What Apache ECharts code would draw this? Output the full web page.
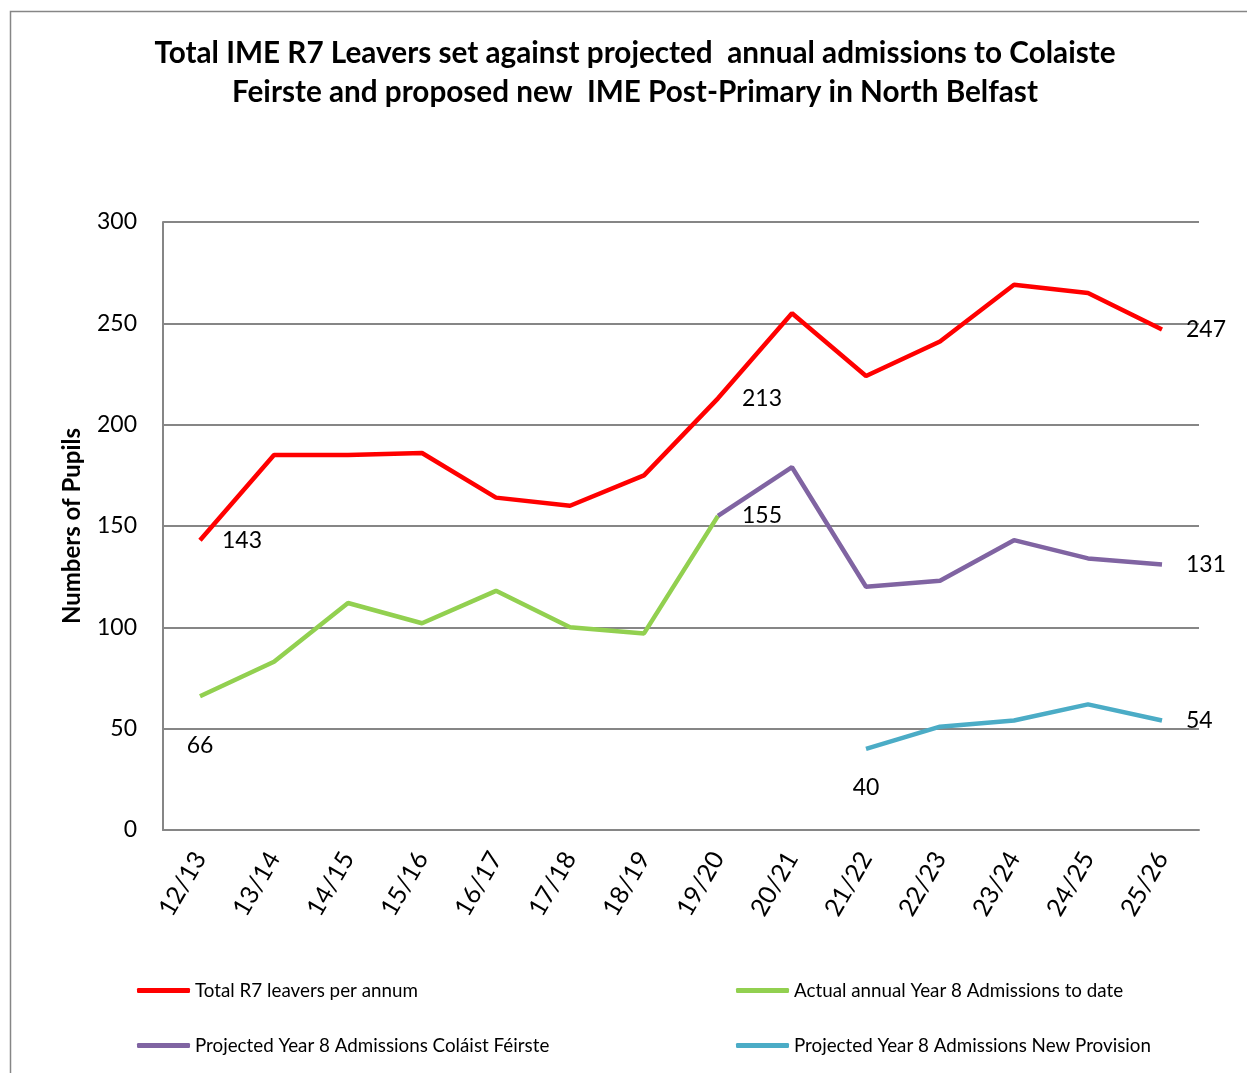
<!DOCTYPE html>
<html>
<head>
<meta charset="utf-8">
<script src="https://cdn.jsdelivr.net/npm/echarts@6/dist/echarts.min.js"></script>
<style>
  html, body { margin: 0; padding: 0; background: #fff; }
  #chart { width: 1247px; height: 1073px; }
</style>
</head>
<body>
<div id="chart"></div>
<script>
var categories = ['12/13', '13/14', '14/15', '15/16', '16/17', '17/18', '18/19',
  '19/20', '20/21', '21/22', '22/23', '23/24', '24/25', '25/26'];
var leavers = [143, 185, 185, 186, 164, 160, 175, 213, 255, 224, 241, 269, 265, 247];
var actualAdmissions = [66, 83, 112, 102, 118, 100, 97, 155, null, null, null, null, null, null];
var projectedColaiste = [null, null, null, null, null, null, null, 155, 179, 120, 123, 143, 134, 131];
var projectedNew = [null, null, null, null, null, null, null, null, null, 40, 51, 54, 62, 54];

var seriesNames = [
  'Total R7 leavers per annum',
  'Actual annual Year 8 Admissions to date',
  'Projected Year 8 Admissions Coláist Féirste',
  'Projected Year 8 Admissions New Provision'
];

var font = 'Lato';

var dom = document.getElementById('chart');
var myChart = echarts.init(dom, null, { renderer: 'canvas' });

// which points carry a value label, and where
function withLabels(values, labelled) {
  return values.map(function (v, i) {
    if (v === null) return '-';
    if (labelled[i]) {
      return {
        value: v,
        label: {
          show: true,
          position: labelled[i].pos,
          distance: labelled[i].dist,
          color: '#000',
          fontFamily: font,
          fontSize: 23
        }
      };
    }
    return v;
  });
}

function lineSeries(name, color, data) {
  return {
    name: name,
    type: 'line',
    data: data,
    symbol: 'circle',
    symbolSize: 0,
    showSymbol: true,
    connectNulls: false,
    lineStyle: { color: color, width: 4.5 },
    itemStyle: { color: color },
    z: 3
  };
}

function legendAt(name, left, top) {
  return {
    data: [name],
    left: left,
    top: top,
    icon: 'roundRect',
    itemWidth: 53,
    itemHeight: 5,
    itemGap: 0,
    textStyle: { fontFamily: font, fontSize: 18.8, color: '#000' }
  };
}

var option = {
  animation: false,
  backgroundColor: '#fff',
  graphic: [{
    type: 'rect',
    shape: { x: 10.5, y: 11.5, width: 1260, height: 1100 },
    style: { fill: 'none', stroke: '#868686', lineWidth: 1.5 }
  }],
  title: {
    text: 'Total IME R7 Leavers set against projected  annual admissions to Colaiste\nFeirste and proposed new  IME Post-Primary in North Belfast',
    left: 630,
    textAlign: 'center',
    top: 29,
    textStyle: {
      fontFamily: font,
      fontSize: 29.7,
      fontWeight: 'bold',
      color: '#000',
      lineHeight: 39
    }
  },
  legend: [
    legendAt(seriesNames[0], 132, 976),
    legendAt(seriesNames[1], 731, 976),
    legendAt(seriesNames[2], 132, 1031),
    legendAt(seriesNames[3], 731, 1031)
  ],
  grid: { left: 163, right: 48, top: 222, bottom: 243 },
  xAxis: {
    type: 'category',
    data: categories,
    boundaryGap: true,
    axisLine: { show: true, lineStyle: { color: '#868686', width: 2 } },
    axisTick: { show: false },
    axisLabel: {
      rotate: 60,
      interval: 0,
      margin: 24,
      fontFamily: font,
      fontSize: 25,
      color: '#000'
    }
  },
  yAxis: {
    type: 'value',
    min: 0,
    max: 300,
    interval: 50,
    name: 'Numbers of Pupils',
    nameLocation: 'middle',
    nameGap: 79,
    nameTextStyle: { fontFamily: font, fontSize: 24, fontWeight: 'bold', color: '#000' },
    axisLine: { show: true, lineStyle: { color: '#868686', width: 2 } },
    axisTick: { show: false },
    splitLine: { lineStyle: { color: '#868686', width: 2 } },
    axisLabel: { margin: 26, fontFamily: font, fontSize: 23, color: '#000' }
  },
  series: [
    lineSeries(seriesNames[0], '#FF0000', withLabels(leavers, {
      0: { pos: 'right', dist: 22 },
      7: { pos: 'right', dist: 24 },
      13: { pos: 'right', dist: 24 }
    })),
    lineSeries(seriesNames[1], '#92D050', withLabels(actualAdmissions, {
      0: { pos: 'bottom', dist: 38 }
    })),
    lineSeries(seriesNames[2], '#8064A2', withLabels(projectedColaiste, {
      7: { pos: 'right', dist: 24 },
      13: { pos: 'right', dist: 24 }
    })),
    lineSeries(seriesNames[3], '#4BACC6', withLabels(projectedNew, {
      9: { pos: 'bottom', dist: 27 },
      13: { pos: 'right', dist: 24 }
    }))
  ]
};

myChart.setOption(option);
window.addEventListener('resize', myChart.resize);
</script>
</body>
</html>
